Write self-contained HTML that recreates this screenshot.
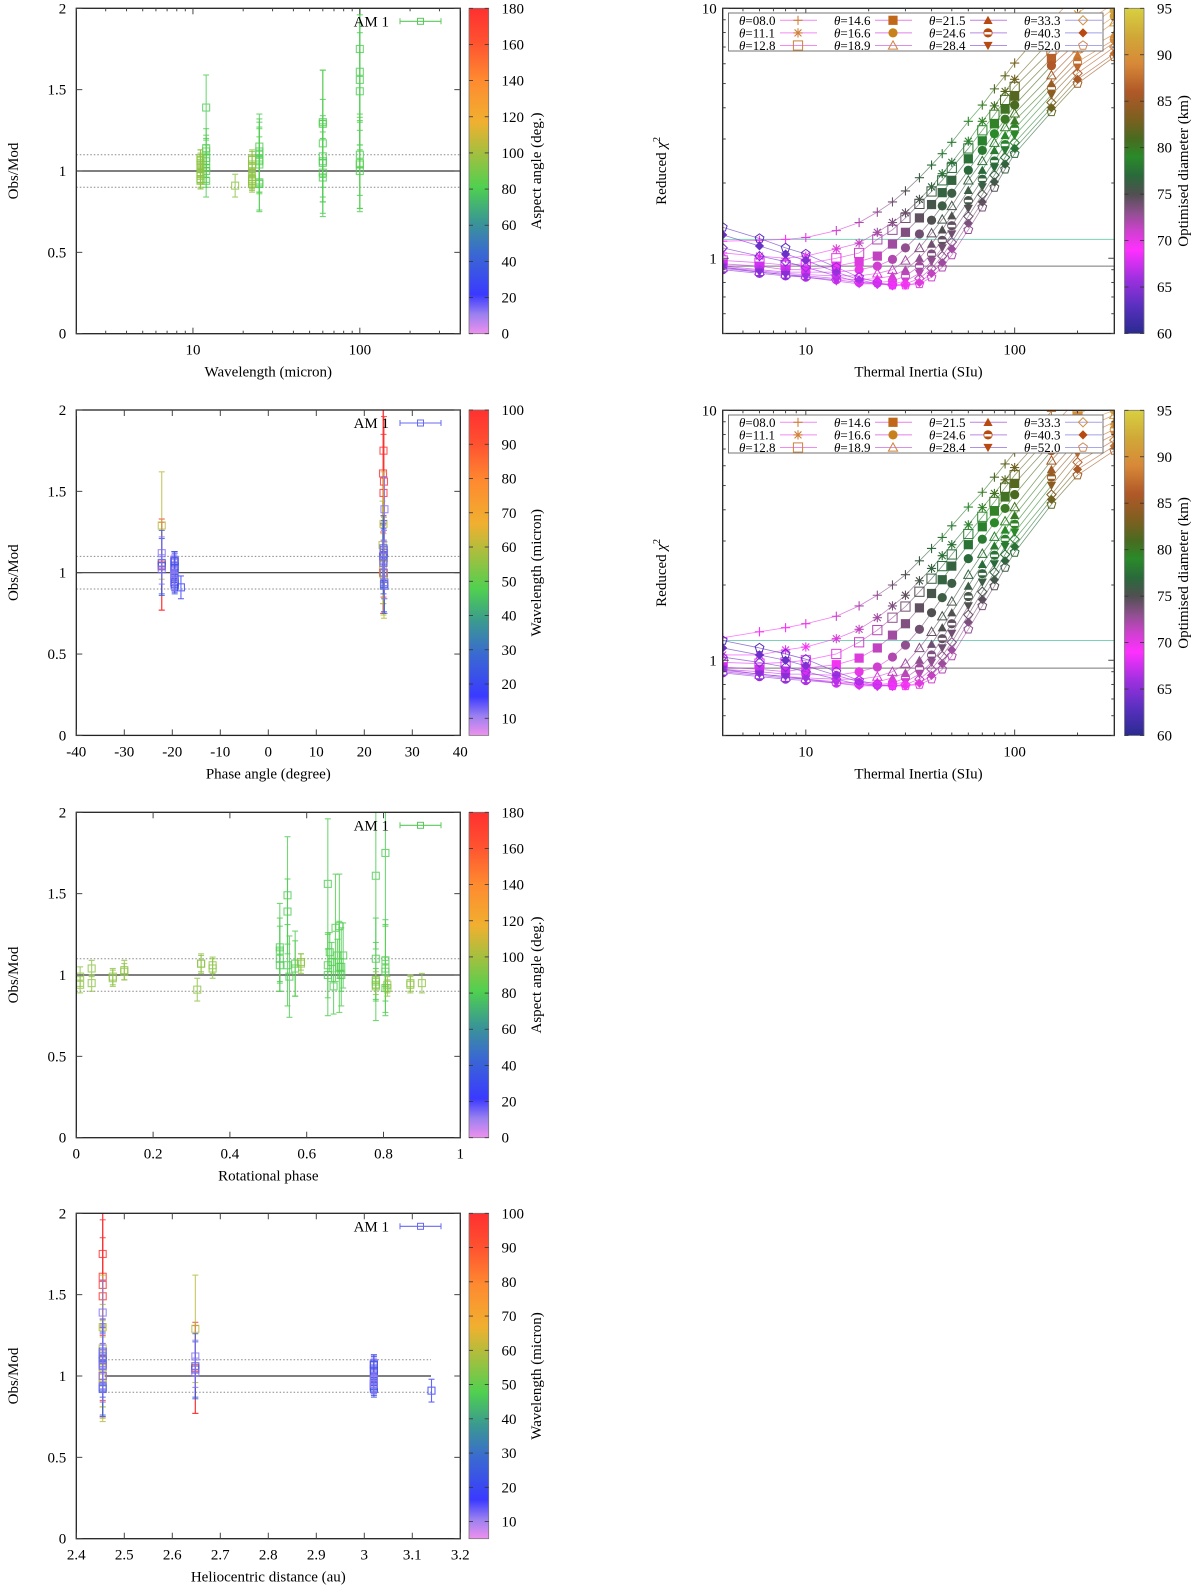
<!DOCTYPE html>
<html><head><meta charset="utf-8"><title>Obs/Mod and chi2 panels</title>
<style>
html,body{margin:0;padding:0;background:#fff;}
svg{display:block;font-family:"Liberation Serif",serif;}
</style></head>
<body>
<svg id="fig" width="1200" height="1592" viewBox="0 0 1200 1592" xmlns="http://www.w3.org/2000/svg">
<defs>
<linearGradient id="gradSpec" x1="0" y1="1" x2="0" y2="0">
<stop offset="0" stop-color="#ee90ee"/><stop offset="0.06" stop-color="#9a80f0"/><stop offset="0.12" stop-color="#3a3aff"/><stop offset="0.25" stop-color="#3a6ad0"/><stop offset="0.35" stop-color="#3a9a90"/><stop offset="0.45" stop-color="#50d050"/><stop offset="0.55" stop-color="#a0c040"/><stop offset="0.65" stop-color="#f0b030"/><stop offset="0.78" stop-color="#ff8a30"/><stop offset="0.9" stop-color="#ff5030"/><stop offset="1" stop-color="#ff3030"/>
</linearGradient>
<linearGradient id="gradDiam" x1="0" y1="1" x2="0" y2="0">
<stop offset="0" stop-color="#2a2a90"/><stop offset="0.086" stop-color="#5a30c0"/><stop offset="0.171" stop-color="#a030e0"/><stop offset="0.257" stop-color="#ff30ff"/><stop offset="0.314" stop-color="#d040d0"/><stop offset="0.371" stop-color="#905090"/><stop offset="0.429" stop-color="#505050"/><stop offset="0.486" stop-color="#2a6a3a"/><stop offset="0.543" stop-color="#2a8a2a"/><stop offset="0.6" stop-color="#4a6a20"/><stop offset="0.657" stop-color="#7a6020"/><stop offset="0.743" stop-color="#b05828"/><stop offset="0.829" stop-color="#d88838"/><stop offset="0.914" stop-color="#d0a838"/><stop offset="1" stop-color="#d8d040"/>
</linearGradient>
<clipPath id="clipR1"><rect x="722.7" y="8.3" width="391.6" height="325.4"/></clipPath>
<clipPath id="clipR2"><rect x="722.7" y="410.3" width="391.6" height="325"/></clipPath>
<clipPath id="clipL0"><rect x="76.3" y="8.3" width="384" height="325.4"/></clipPath>
<clipPath id="clipL1"><rect x="76.3" y="410" width="384" height="325.4"/></clipPath>
<clipPath id="clipL2"><rect x="76.3" y="812.3" width="384" height="325.4"/></clipPath>
<clipPath id="clipL3"><rect x="76.3" y="1213.3" width="384" height="325.4"/></clipPath>
</defs>
</svg>
<script>
// ---------- Observation data (shared by the 4 left panels) ----------
const obsLam   = [100,100,100,100,100,100, 60,60,60,60,60,60,60, 25,25,25,25,25,25, 12,12,12,12,12,12, 100,100,60,25,25,12,12, 11.1,22.6,11.1,22.6,11.1,22.6,11.1,22.6,11.1,22.6,11.1,22.6,11.1,22.6,11.1,22.6,11.1,22.6,11.1,22.6,11.1, 17.9];
const obsRatio = [1.75,1.61,1.56,1.49,1.10,1.00, 1.30,1.17,1.09,1.06,1.05,0.99,0.96, 1.15,1.12,1.10,1.07,0.93,0.92, 1.39,1.14,1.08,1.06,1.00,0.94, 1.05,1.04,1.29,1.06,1.04,1.12,1.02, 0.99,0.94,1.04,0.95,0.98,0.99,1.02,1.03,1.07,1.07,1.06,1.04,1.08,1.07,0.97,0.93,0.94,0.92,0.95,0.94,0.95, 0.91];
const obsErr   = [0.45,0.45,0.40,0.36,0.25,0.25, 0.32,0.27,0.25,0.25,0.24,0.25,0.24, 0.20,0.20,0.20,0.20,0.17,0.17, 0.20,0.12,0.12,0.10,0.10,0.10, 0.28,0.27,0.33,0.20,0.17,0.10,0.09, 0.06,0.05,0.05,0.05,0.05,0.05,0.05,0.06,0.06,0.05,0.05,0.06,0.05,0.06,0.05,0.05,0.05,0.05,0.05,0.05,0.06, 0.07];
const obsPhase = [24.0,23.9,24.1,24.0,24.0,23.9, 24.0,23.8,24.1,24.0,23.9,24.0,24.1, 24.0,24.1,23.9,24.0,24.1,24.2, 24.2,24.1,24.0,24.0,24.1,24.2, -22.2,-22.2,-22.2,-22.2,-22.2,-22.2,-22.2, -19.6,-19.5,-19.6,-19.5,-19.6,-19.5,-19.6,-19.5,-19.6,-19.5,-19.6,-19.5,-19.6,-19.5,-19.6,-19.5,-19.6,-19.5,-19.6,-19.5,-19.6, -18.2];
const obsDist  = [2.455,2.455,2.455,2.455,2.455,2.455, 2.455,2.455,2.455,2.455,2.455,2.455,2.455, 2.455,2.455,2.455,2.455,2.455,2.455, 2.455,2.455,2.455,2.455,2.455,2.455, 2.648,2.648,2.648,2.648,2.648,2.648,2.648, 3.02,3.02,3.02,3.02,3.02,3.02,3.02,3.02,3.02,3.02,3.02,3.02,3.02,3.02,3.02,3.02,3.02,3.02,3.02,3.02,3.02, 3.14];
const obsRot   = [0.805,0.78,0.655,0.55,0.78,0.655, 0.685,0.53,0.805,0.55,0.69,0.555,0.78, 0.53,0.695,0.53,0.57,0.67,0.805, 0.55,0.66,0.665,0.53,0.69,0.78, 0.685,0.805,0.675,0.655,0.57,0.68,0.805, 0.01,0.01,0.04,0.04,0.095,0.095,0.125,0.125,0.325,0.325,0.355,0.355,0.585,0.585,0.78,0.78,0.81,0.81,0.87,0.87,0.90, 0.315];
const obsAspect= [80,80,80,80,80,80, 80,80,80,80,80,80,80, 80,80,80,80,80,80, 80,80,80,80,80,80, 82,82,82,82,82,82,82, 95,95,95,95,95,95,95,95,95,95,95,95,95,95,95,95,95,95,95,95,95, 95];

// ---------- Reduced chi2 data (right panels) ----------
const thermalInertia = [4,6,8,10,14,18,22,26,30,35,40,45,50,60,70,80,90,100,150,200,300];
const thetaLabels = ['08.0','11.1','12.8','14.6','16.6','18.9','21.5','24.6','28.4','33.3','40.3','52.0'];
const diamByTI = [69,69,69,70,71,72,73,74,75,76,77,78,78,79,80,81,82,83,88,91,93];
const diamShiftByTheta = [0,-0.5,-1,-1.5,-2,-2.5,-3,-3.5,-4,-4.6,-5.3,-6];
const chiA_08 = [1.17,1.18,1.19,1.21,1.29,1.39,1.53,1.68,1.86,2.1,2.36,2.62,2.91,3.53,4.1,4.76,5.37,6.04,8.9,11.5,15];
const chiA_11 = [1.05,1.02,1.0,1.02,1.09,1.15,1.27,1.39,1.52,1.72,1.93,2.18,2.42,2.94,3.53,4.07,4.65,5.2,7.5,9.5,12.5];
const chiA_12 = [0.98,0.96,0.94,0.95,1.0,1.05,1.19,1.3,1.45,1.65,1.85,2.05,2.3,2.75,3.25,3.75,4.3,4.85,6.8,8.3,10.5];
const chiA_14 = [0.95,0.93,0.9,0.9,0.93,0.97,1.02,1.14,1.27,1.45,1.64,1.83,2.05,2.5,2.95,3.45,3.95,4.45,6.3,7.8,10];
const chiA_16 = [0.93,0.9,0.88,0.88,0.88,0.9,0.93,0.99,1.1,1.25,1.42,1.62,1.82,2.25,2.7,3.15,3.6,4.1,5.9,7.3,9.3];
const chiA_18 = [0.92,0.89,0.87,0.86,0.85,0.85,0.87,0.9,0.98,1.1,1.26,1.43,1.62,2.05,2.45,2.9,3.35,3.8,5.4,6.9,8.8];
const chiA_21 = [0.91,0.88,0.86,0.85,0.83,0.82,0.83,0.85,0.9,1.0,1.14,1.3,1.48,1.87,2.25,2.7,3.1,3.55,5.0,6.5,7.9];
const chiA_24 = [0.9,0.87,0.85,0.84,0.82,0.8,0.8,0.81,0.85,0.93,1.04,1.18,1.35,1.7,2.07,2.45,2.85,3.3,4.8,6.1,7.5];
const chiA_28 = [0.92,0.88,0.86,0.84,0.81,0.79,0.79,0.79,0.81,0.87,0.97,1.1,1.25,1.58,1.93,2.3,2.7,3.1,4.5,5.8,7.3];
const chiA_33 = [1.1,1.02,0.97,0.92,0.85,0.8,0.79,0.78,0.79,0.83,0.91,1.02,1.16,1.47,1.8,2.15,2.53,2.9,4.2,5.5,7.0];
const chiA_40 = [1.24,1.12,1.04,0.98,0.88,0.82,0.79,0.78,0.78,0.8,0.87,0.96,1.09,1.38,1.68,2.02,2.38,2.75,4.0,5.2,6.6];
const chiA_52 = [1.33,1.2,1.1,1.04,0.92,0.84,0.8,0.78,0.78,0.79,0.84,0.92,1.03,1.3,1.6,1.92,2.27,2.62,3.85,5.0,6.4];
const chiB_08 = [1.23,1.3,1.35,1.4,1.5,1.65,1.82,2.0,2.2,2.5,2.8,3.1,3.45,4.1,4.7,5.4,6.1,6.8,9.9,13,17];
const chiB_11 = [1.05,1.05,1.1,1.13,1.22,1.33,1.48,1.65,1.82,2.08,2.33,2.62,2.9,3.48,4.08,4.65,5.27,5.9,8.6,11,14];
const chiB_12 = [0.98,0.97,0.98,1.0,1.06,1.18,1.32,1.48,1.64,1.88,2.12,2.38,2.65,3.2,3.75,4.3,4.9,5.5,8.0,10,13];
const chiB_14 = [0.94,0.92,0.9,0.93,0.96,1.02,1.12,1.26,1.4,1.62,1.85,2.1,2.38,2.9,3.42,3.95,4.5,5.1,7.4,9.5,12];
const chiB_16 = [0.92,0.9,0.88,0.88,0.87,0.9,0.94,1.03,1.15,1.33,1.55,1.78,2.03,2.55,3.05,3.55,4.05,4.6,6.9,8.8,10];
const chiB_18 = [0.91,0.88,0.86,0.85,0.84,0.84,0.86,0.9,0.97,1.12,1.3,1.5,1.72,2.2,2.67,3.12,3.6,4.1,6.3,8.2,9.6];
const chiB_21 = [0.9,0.87,0.85,0.84,0.82,0.81,0.82,0.85,0.89,1.0,1.16,1.35,1.55,1.98,2.42,2.87,3.32,3.8,5.8,7.6,9.0];
const chiB_24 = [0.89,0.86,0.84,0.83,0.81,0.8,0.8,0.81,0.85,0.93,1.05,1.22,1.4,1.8,2.22,2.63,3.05,3.5,5.4,7.1,8.4];
const chiB_28 = [0.92,0.88,0.86,0.84,0.81,0.79,0.79,0.8,0.82,0.88,0.98,1.12,1.28,1.65,2.05,2.43,2.85,3.25,5.0,6.7,8.0];
const chiB_33 = [1.03,0.98,0.94,0.9,0.84,0.8,0.79,0.79,0.8,0.84,0.92,1.04,1.18,1.52,1.88,2.25,2.65,3.05,4.6,6.2,7.6];
const chiB_40 = [1.12,1.05,1.0,0.95,0.87,0.82,0.79,0.79,0.79,0.81,0.87,0.97,1.1,1.42,1.75,2.1,2.5,2.85,4.4,5.8,7.2];
const chiB_52 = [1.2,1.12,1.06,1.01,0.9,0.83,0.8,0.79,0.79,0.8,0.84,0.92,1.04,1.33,1.65,1.98,2.35,2.7,4.2,5.5,6.9];
const chiSetA = [chiA_08,chiA_11,chiA_12,chiA_14,chiA_16,chiA_18,chiA_21,chiA_24,chiA_28,chiA_33,chiA_40,chiA_52];
const chiSetB = [chiB_08,chiB_11,chiB_12,chiB_14,chiB_16,chiB_18,chiB_21,chiB_24,chiB_28,chiB_33,chiB_40,chiB_52];
const refLinesA = [1.19,0.93];
const refLinesB = [1.2,0.93];

// tick label arrays
const yTicksLeft = [0,0.5,1,1.5,2];
const yTickLabelsLeft = ['0','0.5','1','1.5','2'];
const xTicksPhase = [-40,-30,-20,-10,0,10,20,30,40];
const xTicksRot = [0,0.2,0.4,0.6,0.8,1];
const xTickLabelsRot = ['0','0.2','0.4','0.6','0.8','1'];
const xTicksDist = [2.4,2.5,2.6,2.7,2.8,2.9,3,3.1,3.2];
const xTickLabelsDist = ['2.4','2.5','2.6','2.7','2.8','2.9','3','3.1','3.2'];
const cbAspectTicks = [0,20,40,60,80,100,120,140,160,180];
const cbLamTicks = [10,20,30,40,50,60,70,80,90,100];
const cbDiamTicks = [60,65,70,75,80,85,90,95];

// ---------- helpers ----------
const NS='http://www.w3.org/2000/svg';
const svg=document.getElementById('fig');
function mk(tag,attrs,parent){const e=document.createElementNS(NS,tag);for(const k in attrs)e.setAttribute(k,attrs[k]);(parent||svg).appendChild(e);return e;}
function txt(s,x,y,attrs,parent){const e=mk('text',Object.assign({x:x,y:y},attrs||{}),parent);e.textContent=s;return e;}
function hex(h){return [parseInt(h.substr(1,2),16),parseInt(h.substr(3,2),16),parseInt(h.substr(5,2),16)];}
function interp(stops,f){f=Math.max(0,Math.min(1,f));for(let i=1;i<stops.length;i++){if(f<=stops[i][0]){const a=stops[i-1],b=stops[i];const t=(f-a[0])/(b[0]-a[0]);const ca=hex(a[1]),cb=hex(b[1]);return 'rgb('+ca.map((v,k)=>Math.round(v+(cb[k]-v)*t)).join(',')+')';}}return stops[stops.length-1][1];}
const specStops=[[0,'#ee90ee'],[0.06,'#9a80f0'],[0.12,'#3a3aff'],[0.25,'#3a6ad0'],[0.35,'#3a9a90'],[0.45,'#50d050'],[0.55,'#a0c040'],[0.65,'#f0b030'],[0.78,'#ff8a30'],[0.9,'#ff5030'],[1,'#ff3030']];
const diamStops=[[0,'#2a2a90'],[0.086,'#5a30c0'],[0.171,'#a030e0'],[0.257,'#ff30ff'],[0.314,'#d040d0'],[0.371,'#905090'],[0.429,'#505050'],[0.486,'#2a6a3a'],[0.543,'#2a8a2a'],[0.6,'#4a6a20'],[0.657,'#7a6020'],[0.743,'#b05828'],[0.829,'#d88838'],[0.914,'#d0a838'],[1,'#d8d040']];

const LX0=76.3, LX1=460.3, LH=325.4;
const LTOPS=[8.3,410,812.3,1213.3];

function drawColorbar(g,x0,x1,top,h,grad,vmin,vmax,ticks,title,titleX,labelX){
  const cb=mk('rect',{x:x0,y:top,width:x1-x0,height:h,fill:'url(#'+grad+')',stroke:'#777','stroke-width':0.8},g);
  
  
  ticks.forEach(v=>{
    const y=top+h-(v-vmin)/(vmax-vmin)*h;
    mk('line',{x1:x0,x2:x0+4,y1:y,y2:y,stroke:'#333','stroke-width':0.8},g);
    mk('line',{x1:x1-4,x2:x1,y1:y,y2:y,stroke:'#333','stroke-width':0.8},g);
    const t=txt(String(v),labelX,y+5,{'font-size':15,fill:'#000'},g);
    
    
  });
  const tt=txt(title,0,0,{'font-size':15,'text-anchor':'middle',transform:'translate('+titleX+','+(top+h/2)+') rotate(-90)'},g);
  
  
}

function drawLeftPanel(p){
  const top=LTOPS[p.idx], bot=top+LH;
  const g=mk('g',{});
  
  
  const ys=v=>bot-v/2*LH;
  const lx0=p.lineFrom!==undefined?p.xs(p.lineFrom):LX0, lx1=p.lineTo!==undefined?p.xs(p.lineTo):LX1;
  [1.1,0.9].forEach(v=>{
    const l=mk('line',{x1:lx0,x2:lx1,y1:ys(v),y2:ys(v),stroke:'#888','stroke-width':1,'stroke-dasharray':'1.5,2'},g);
    
    
  });
  const one=mk('line',{x1:lx0,x2:lx1,y1:ys(1),y2:ys(1),stroke:'#333','stroke-width':1.2},g);
  
  
  const dg=mk('g',{'clip-path':'url(#clipL'+p.idx+')'},g);
  for(let i=0;i<obsRatio.length;i++){
    const x=p.xs(p.xv[i]), y=ys(obsRatio[i]);
    const c=interp(specStops,(p.cv[i]-p.cmin)/(p.cmax-p.cmin));
    const yt=ys(obsRatio[i]+obsErr[i]), yb=ys(obsRatio[i]-obsErr[i]);
    const pt=mk('g',{stroke:c,fill:'none','stroke-width':1.1,opacity:0.8},dg);
    
    
    mk('line',{x1:x,x2:x,y1:yt,y2:yb},pt);
    mk('line',{x1:x-3,x2:x+3,y1:yt,y2:yt},pt);
    mk('line',{x1:x-3,x2:x+3,y1:yb,y2:yb},pt);
    mk('rect',{x:x-3.5,y:y-3.5,width:7,height:7},pt);
  }
  const fr=mk('rect',{x:LX0,y:top,width:LX1-LX0,height:LH,fill:'none',stroke:'#222','stroke-width':1.3},g);
  
  
  yTicksLeft.forEach((v,k)=>{
    const y=ys(v);
    mk('line',{x1:LX0,x2:LX0+6,y1:y,y2:y,stroke:'#444'},g);
    mk('line',{x1:LX1-6,x2:LX1,y1:y,y2:y,stroke:'#444'},g);
    const t=txt(yTickLabelsLeft[k],LX0-10,y+5,{'font-size':15,'text-anchor':'end'},g);
    
    
  });
  p.xMinor.forEach(v=>{const x=p.xs(v);mk('line',{x1:x,x2:x,y1:bot,y2:bot-3,stroke:'#444'},g);mk('line',{x1:x,x2:x,y1:top,y2:top+3,stroke:'#444'},g);});
  p.xTicks.forEach((v,k)=>{
    const x=p.xs(v);
    mk('line',{x1:x,x2:x,y1:bot,y2:bot-6,stroke:'#444'},g);
    mk('line',{x1:x,x2:x,y1:top,y2:top+6,stroke:'#444'},g);
    const t=txt(p.xLabels[k],x,bot+21,{'font-size':15,'text-anchor':'middle'},g);
    
    
  });
  const xt=txt(p.xTitle,(LX0+LX1)/2,bot+43,{'font-size':15,'text-anchor':'middle'},g);
  
  
  const yt=txt('Obs/Mod',0,0,{'font-size':15,'text-anchor':'middle',transform:'translate(18,'+(top+LH/2)+') rotate(-90)'},g);
  
  
  const lg=mk('g',{},g);
  
  
  txt('AM 1',389,top+18,{'font-size':15,'text-anchor':'end'},lg);
  const ly=top+13;
  mk('line',{x1:400,x2:441,y1:ly,y2:ly,stroke:p.legColor,'stroke-width':1.1},lg);
  mk('line',{x1:400,x2:400,y1:ly-3,y2:ly+3,stroke:p.legColor},lg);
  mk('line',{x1:441,x2:441,y1:ly-3,y2:ly+3,stroke:p.legColor},lg);
  mk('rect',{x:417.5,y:ly-3,width:6,height:6,fill:'none',stroke:p.legColor},lg);
  drawColorbar(g,469,488.7,top,LH,'gradSpec',p.cmin,p.cmax,p.cbTicks,p.cbTitle,541,501.5);
}

const logX1=v=>LX0+(Math.log10(v)-Math.log10(2))/(Math.log10(400)-Math.log10(2))*(LX1-LX0);
const linX=(a,b)=>v=>LX0+(v-a)/(b-a)*(LX1-LX0);
const wlMinor=[2,3,4,5,6,7,8,9,20,30,40,50,60,70,80,90,200,300,400];

drawLeftPanel({idx:0,name:'panel-wavelength',xs:logX1,xv:obsLam,cv:obsAspect,cmin:0,cmax:180,xTicks:[10,100],xLabels:['10','100'],xMinor:wlMinor,xTitle:'Wavelength (micron)',cbTicks:cbAspectTicks,cbTitle:'Aspect angle (deg.)',legColor:'#5cc85c'});
drawLeftPanel({idx:1,name:'panel-phase-angle',xs:linX(-40,40),xv:obsPhase,cv:obsLam,cmin:5,cmax:100,xTicks:xTicksPhase,xLabels:xTicksPhase.map(String),xMinor:[],xTitle:'Phase angle (degree)',cbTicks:cbLamTicks,cbTitle:'Wavelength (micron)',legColor:'#6a6af0'});
drawLeftPanel({idx:2,name:'panel-rotational-phase',xs:linX(0,1),xv:obsRot,cv:obsAspect,cmin:0,cmax:180,xTicks:xTicksRot,xLabels:xTickLabelsRot,xMinor:[],xTitle:'Rotational phase',cbTicks:cbAspectTicks,cbTitle:'Aspect angle (deg.)',legColor:'#5cc85c'});
drawLeftPanel({idx:3,name:'panel-heliocentric-distance',xs:linX(2.4,3.2),xv:obsDist,cv:obsLam,cmin:5,cmax:100,xTicks:xTicksDist,xLabels:xTickLabelsDist,xMinor:[],xTitle:'Heliocentric distance (au)',cbTicks:cbLamTicks,cbTitle:'Wavelength (micron)',legColor:'#6a6af0',lineFrom:2.459,lineTo:3.139});

// ---------- right panels ----------
const RX0=722.7, RX1=1114.3, RH=325.2;
function drawMarker(g,k,x,y,c){
  const s=4.6;
  let e;
  if(k===0){e=mk('path',{d:'M'+(x-s)+' '+y+'H'+(x+s)+'M'+x+' '+(y-s)+'V'+(y+s),stroke:c,fill:'none','stroke-width':1.1},g);}
  else if(k===1){e=mk('path',{d:'M'+(x-s)+' '+y+'H'+(x+s)+'M'+x+' '+(y-s)+'V'+(y+s)+'M'+(x-s*0.75)+' '+(y-s*0.75)+'L'+(x+s*0.75)+' '+(y+s*0.75)+'M'+(x-s*0.75)+' '+(y+s*0.75)+'L'+(x+s*0.75)+' '+(y-s*0.75),stroke:c,fill:'none','stroke-width':1.1},g);}
  else if(k===2){e=mk('rect',{x:x-s,y:y-s,width:2*s,height:2*s,fill:'none',stroke:c,'stroke-width':1},g);}
  else if(k===3){e=mk('rect',{x:x-s,y:y-s,width:2*s,height:2*s,fill:c},g);}
  else if(k===4){e=mk('circle',{cx:x,cy:y,r:s,fill:c},g);}
  else if(k===5){e=mk('polygon',{points:x+','+(y-s)+' '+(x+s)+','+(y+s*0.8)+' '+(x-s)+','+(y+s*0.8),fill:'none',stroke:c},g);}
  else if(k===6){e=mk('polygon',{points:x+','+(y-s)+' '+(x+s)+','+(y+s*0.8)+' '+(x-s)+','+(y+s*0.8),fill:c},g);}
  else if(k===7){e=mk('g',{},g);mk('circle',{cx:x,cy:y,r:s,fill:c},e);mk('rect',{x:x-s+1,y:y-0.8,width:2*s-2,height:2.4,fill:'#fff'},e);}
  else if(k===8){e=mk('polygon',{points:x+','+(y+s)+' '+(x+s)+','+(y-s*0.8)+' '+(x-s)+','+(y-s*0.8),fill:c},g);}
  else if(k===9){e=mk('polygon',{points:x+','+(y-s)+' '+(x+s)+','+y+' '+x+','+(y+s)+' '+(x-s)+','+y,fill:'none',stroke:c},g);}
  else if(k===10){e=mk('polygon',{points:x+','+(y-s)+' '+(x+s)+','+y+' '+x+','+(y+s)+' '+(x-s)+','+y,fill:c},g);}
  else {const pts=[];for(let j=0;j<5;j++){const a=-Math.PI/2+j*2*Math.PI/5;pts.push((x+s*Math.cos(a)).toFixed(1)+','+(y+s*Math.sin(a)).toFixed(1));}e=mk('polygon',{points:pts.join(' '),fill:'none',stroke:c},g);}
  
  
}
function drawRightPanel(idx,top,chiSet,refs,name){
  const bot=top+RH;
  const g=mk('g',{});
  
  
  const xs=v=>RX0+(Math.log10(v)-Math.log10(4))/(Math.log10(300)-Math.log10(4))*(RX1-RX0);
  const ys=v=>bot-(Math.log10(v)-Math.log10(0.5))/(1-Math.log10(0.5))*RH;
  const rl1=mk('line',{x1:RX0,x2:RX1,y1:ys(refs[0]),y2:ys(refs[0]),stroke:'#7fd0b8','stroke-width':1},g);
  
  
  const rl2=mk('line',{x1:RX0,x2:RX1,y1:ys(refs[1]),y2:ys(refs[1]),stroke:'#777','stroke-width':1},g);
  
  
  const dg=mk('g',{'clip-path':'url(#clipR'+idx+')'},g);
  chiSet.forEach((arr,k)=>{
    const cg=mk('g',{},dg);
    
    
    const cols=arr.map((v,i)=>interp(diamStops,(diamByTI[i]+diamShiftByTheta[k]-60)/35));
    for(let i=0;i<arr.length-1;i++){
      mk('line',{x1:xs(thermalInertia[i]),y1:ys(arr[i]),x2:xs(thermalInertia[i+1]),y2:ys(arr[i+1]),stroke:cols[i],'stroke-width':0.8,opacity:0.65},cg);
    }
    arr.forEach((v,i)=>drawMarker(cg,k,xs(thermalInertia[i]),ys(v),cols[i]));
  });
  const fr=mk('rect',{x:RX0,y:top,width:RX1-RX0,height:RH,fill:'none',stroke:'#222','stroke-width':1.3},g);
  
  
  [0.5,0.6,0.7,0.8,0.9,2,3,4,5,6,7,8,9].forEach(v=>{const y=ys(v);mk('line',{x1:RX0,x2:RX0+3,y1:y,y2:y,stroke:'#444'},g);mk('line',{x1:RX1-3,x2:RX1,y1:y,y2:y,stroke:'#444'},g);});
  [1,10].forEach(v=>{
    const y=ys(v);
    mk('line',{x1:RX0,x2:RX0+6,y1:y,y2:y,stroke:'#444'},g);
    mk('line',{x1:RX1-6,x2:RX1,y1:y,y2:y,stroke:'#444'},g);
    const t=txt(String(v),RX0-6,y+5,{'font-size':15,'text-anchor':'end'},g);
    
    
  });
  [5,6,7,8,9,20,30,40,50,60,70,80,90,200].forEach(v=>{const x=xs(v);mk('line',{x1:x,x2:x,y1:bot,y2:bot-3,stroke:'#444'},g);mk('line',{x1:x,x2:x,y1:top,y2:top+3,stroke:'#444'},g);});
  [10,100].forEach(v=>{
    const x=xs(v);
    mk('line',{x1:x,x2:x,y1:bot,y2:bot-6,stroke:'#444'},g);
    mk('line',{x1:x,x2:x,y1:top,y2:top+6,stroke:'#444'},g);
    const t=txt(String(v),x,bot+21,{'font-size':15,'text-anchor':'middle'},g);
    
    
  });
  const xt=txt('Thermal Inertia (SIu)',(RX0+RX1)/2,bot+43,{'font-size':15,'text-anchor':'middle'},g);
  
  
  const yt=mk('text',{'font-size':15,'text-anchor':'middle',transform:'translate(666,'+(top+RH/2)+') rotate(-90)'},g);
  
  
  yt.appendChild(document.createTextNode('Reduced '));
  const chi=document.createElementNS(NS,'tspan');chi.setAttribute('font-style','italic');chi.textContent='χ';yt.appendChild(chi);
  const sup=document.createElementNS(NS,'tspan');sup.setAttribute('font-size',10);sup.setAttribute('dy',-6);sup.textContent='2';yt.appendChild(sup);
  const lg=mk('g',{},g);
  
  
  mk('rect',{x:728.5,y:top+4.7,width:374.5,height:38,fill:'#fff',stroke:'#666','stroke-width':0.9},lg);
  const legMarkColors=['#d0803a','#d0803a','#d0803a','#c06818','#c8801a','#d0803a','#b84a10','#b84a10','#b84a10','#d0903a','#b84a10','#d08a5a'];
  const legLineColors=['#f28af2','#f28af2','#f28af2','#e880e8','#e080e8','#d890e8','#c080e0','#b88ae0','#b090e0','#a8a0e8','#a0a0e8','#a8a8e8'];
  thetaLabels.forEach((lab,k)=>{
    const col=Math.floor(k/3), row=k%3;
    const tx=739+col*95, ty=top+12+row*12.6;
    const e=mk('g',{},lg);
    
    
    const t=mk('text',{x:tx,y:ty+4.5,'font-size':13},e);
    const th=document.createElementNS(NS,'tspan');th.setAttribute('font-style','italic');th.textContent='θ';t.appendChild(th);
    t.appendChild(document.createTextNode('='+lab));
    mk('line',{x1:tx+41,x2:tx+78,y1:ty,y2:ty,stroke:legLineColors[k],'stroke-width':1},e);
    drawMarker(e,k,tx+59,ty,legMarkColors[k]);
  });
  drawColorbar(g,1124.5,1144,top,RH,'gradDiam',60,95,cbDiamTicks,'Optimised diameter (km)',1188,1157);
}
drawRightPanel(1,8.3,chiSetA,refLinesA,'panel-chi2-top');
drawRightPanel(2,410.3,chiSetB,refLinesB,'panel-chi2-bottom');
</script>
</body></html>
